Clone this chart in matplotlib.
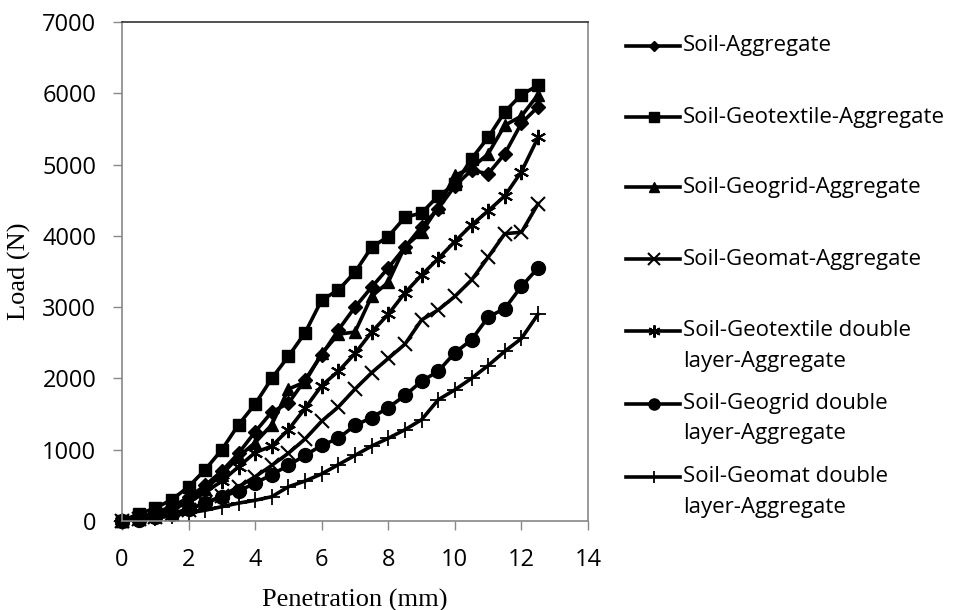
import matplotlib.pyplot as plt
from matplotlib.lines import Line2D

# penetration (mm)
penetration = [0, 0.5, 1, 1.5, 2, 2.5, 3, 3.5, 4, 4.5, 5, 5.5, 6, 6.5,
               7, 7.5, 8, 8.5, 9, 9.5, 10, 10.5, 11, 11.5, 12, 12.5]

soil_agg = [0, 50, 120, 200, 330, 500, 700, 950, 1250, 1530, 1650, 1980, 2330, 2680,
            3000, 3280, 3550, 3840, 4130, 4380, 4700, 4920, 4870, 5150, 5580, 5810]
geotextile = [0, 100, 180, 300, 480, 720, 1000, 1350, 1640, 2000, 2310, 2640, 3100, 3240,
              3490, 3840, 3990, 4260, 4320, 4560, 4720, 5080, 5380, 5740, 5980, 6110]
geogrid = [0, 50, 100, 180, 300, 450, 650, 900, 1100, 1350, 1850, 1950, 2350, 2620,
           2650, 3150, 3350, 3850, 4050, 4400, 4850, 4950, 5150, 5550, 5680, 5980]
geomat = [0, 30, 60, 100, 160, 250, 350, 480, 620, 780, 950, 1150, 1400, 1600,
          1850, 2080, 2280, 2480, 2820, 2960, 3150, 3380, 3700, 4030, 4050, 4450]
geotextile_dbl = [0, 40, 90, 160, 260, 400, 560, 760, 960, 1050, 1280, 1580, 1900, 2100,
                  2350, 2650, 2900, 3200, 3450, 3680, 3920, 4150, 4350, 4560, 4900, 5380]
geogrid_dbl = [0, 20, 50, 100, 170, 250, 340, 420, 530, 650, 780, 920, 1060, 1160,
               1340, 1450, 1590, 1760, 1960, 2100, 2360, 2540, 2860, 2980, 3290, 3550]
geomat_dbl = [0, 20, 40, 70, 110, 150, 200, 250, 290, 340, 480, 560, 660, 790,
              920, 1050, 1160, 1280, 1420, 1700, 1840, 2000, 2180, 2380, 2560, 2900]

labels = ['Soil-Aggregate', 'Soil-Geotextile-Aggregate', 'Soil-Geogrid-Aggregate',
          'Soil-Geomat-Aggregate', 'Soil-Geotextile double\nlayer-Aggregate',
          'Soil-Geogrid double\nlayer-Aggregate', 'Soil-Geomat double\nlayer-Aggregate']
series = [soil_agg, geotextile, geogrid, geomat, geotextile_dbl, geogrid_dbl, geomat_dbl]
markers = ['D', 's', '^', 'x', (6, 2, 0), 'o', '+']
msizes = [7, 9, 9, 10, 11, 10, 11]
mews = [1, 1, 1, 1.5, 1.5, 1, 1.3]

fig = plt.figure(figsize=(9.63, 6.10), dpi=100)
ax = fig.add_axes([0.1267, 0.146, 0.4839, 0.818])

for y, m, ms, mew in zip(series, markers, msizes, mews):
    ax.plot(penetration, y, color='black', lw=2.6, marker=m, markersize=ms,
            markeredgewidth=mew, markerfacecolor='black', markeredgecolor='black',
            clip_on=False)

ax.set_xlim(0, 14)
ax.set_ylim(0, 7000)
ax.set_xticks(range(0, 15, 2))
ax.set_yticks(range(0, 7001, 1000))
for t in ax.get_xticklabels() + ax.get_yticklabels():
    t.set_fontfamily('Open Sans')
    t.set_fontsize(17)
ax.tick_params(direction='out', length=6.5, width=1, color='#888888')
ax.tick_params(axis='x', pad=13)
ax.tick_params(axis='y', pad=12)
for s in ['left', 'bottom', 'right']:
    ax.spines[s].set_color('#888888')
ax.spines['top'].set_color('#333333')
for s in ax.spines.values():
    s.set_linewidth(1.2)

ax.set_xlabel('Penetration (mm)', family='Liberation Serif', fontsize=19, labelpad=12)
ax.set_ylabel('Load (N)', family='Liberation Serif', fontsize=19, labelpad=8)

# legend drawn by hand so the handle sits on the first text line
leg_y = [46, 117, 187, 259, 331, 404, 477]
for lab, m, ms, mew, py in zip(labels, markers, msizes, mews, leg_y):
    yf = 1 - py / 610
    fig.add_artist(Line2D([626 / 963, 680 / 963], [yf, yf], transform=fig.transFigure,
                          color='black', lw=2.6))
    fig.add_artist(Line2D([654 / 963], [yf], transform=fig.transFigure, color='black',
                          marker=m, markersize=ms * 0.8, markeredgewidth=mew,
                          markerfacecolor='black', markeredgecolor='black'))
    for i, part in enumerate(lab.split('\n')):
        fig.text(683 / 963, 1 - (py + 30 * i) / 610, part, family='Open Sans',
                 fontsize=16, va='center')

fig.savefig('out.png', dpi=100)
